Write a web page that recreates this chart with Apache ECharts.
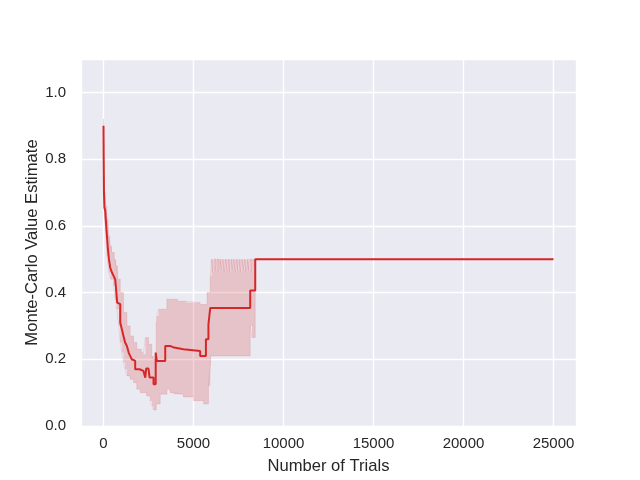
<!DOCTYPE html>
<html>
<head>
<meta charset="utf-8">
<script src="https://cdn.jsdelivr.net/npm/echarts@6/dist/echarts.min.js"></script>
<style>html,body{margin:0;padding:0;background:#fff;}#c{width:640px;height:480px;}</style>
</head>
<body>
<div id="c"></div>
<script>
// Mean estimate line (step-post)
var lineX = [0, 10, 25, 50, 95, 150, 230, 300, 370, 470, 560, 650, 700, 760, 850, 930, 1020, 1110, 1200, 1300, 1400, 1480, 1570, 1670, 1760, 2000, 2220, 2320, 2370, 2500, 2560, 2780, 2900, 2960, 3430, 3700, 3920, 4440, 5370, 5690, 5830, 5930, 8150, 8430, 25000];
var lineY = [0.90, 0.80, 0.70, 0.655, 0.645, 0.60, 0.54, 0.50, 0.475, 0.46, 0.45, 0.44, 0.41, 0.37, 0.365, 0.31, 0.29, 0.27, 0.25, 0.24, 0.22, 0.21, 0.20, 0.195, 0.17, 0.165, 0.165, 0.145, 0.172, 0.172, 0.145, 0.125, 0.22, 0.195, 0.24, 0.235, 0.23, 0.225, 0.21, 0.26, 0.305, 0.354, 0.406, 0.50, 0.50];

// Upper confidence bound
var upperX = [0, 30, 60, 120, 200, 280, 370, 470, 600, 700, 800, 930, 1110, 1300, 1480, 1670, 1850, 2100, 2220, 2330, 2500, 2680, 2780, 2930, 2960, 3060, 3520, 4100, 4600, 5370, 5750, 5930,
  6000, 6080, 6130, 6250, 6300, 6420, 6470, 6560, 6610, 6720, 6770, 6870, 6920, 7030, 7080, 7170, 7220, 7330, 7380, 7470, 7520, 7630, 7680, 7780, 7830, 7930, 7980, 8080, 8130, 8250, 8300, 25000];
var upperY = [0.92, 0.75, 0.70, 0.66, 0.62, 0.57, 0.54, 0.52, 0.50, 0.48, 0.44, 0.40, 0.34, 0.30, 0.27, 0.25, 0.23, 0.22, 0.215, 0.265, 0.245, 0.21, 0.20, 0.31, 0.33, 0.35, 0.38, 0.374, 0.37, 0.364, 0.40, 0.45,
  0.50, 0.46, 0.50, 0.465, 0.50, 0.46, 0.50, 0.47, 0.50, 0.46, 0.50, 0.465, 0.50, 0.46, 0.50, 0.47, 0.50, 0.46, 0.50, 0.465, 0.50, 0.46, 0.50, 0.47, 0.50, 0.46, 0.50, 0.465, 0.50, 0.46, 0.50, 0.50];

// Lower confidence bound
var lowerX = [0, 30, 60, 120, 190, 300, 400, 560, 650, 740, 850, 930, 1020, 1110, 1200, 1300, 1480, 1670, 1850, 2040, 2400, 2600, 2700, 2780, 2930, 3150, 3520, 3700, 3890, 4440, 5000, 5560, 5830, 5930, 5960, 8150, 8250, 8430, 25000];
var lowerY = [0.88, 0.66, 0.62, 0.58, 0.51, 0.46, 0.44, 0.42, 0.38, 0.35, 0.30, 0.25, 0.22, 0.19, 0.17, 0.15, 0.14, 0.13, 0.11, 0.10, 0.09, 0.075, 0.06, 0.048, 0.066, 0.095, 0.11, 0.10, 0.095, 0.087, 0.076, 0.066, 0.12, 0.18, 0.21, 0.30, 0.265, 0.50, 0.50];

var xTicks = [0, 5000, 10000, 15000, 20000, 25000];
var yTicks = [0.0, 0.2, 0.4, 0.6, 0.8, 1.0];

function zip(a, b) { return a.map(function (v, i) { return [v, b[i]]; }); }

function stepPts(xs, ys, api) {
  var pts = [];
  for (var i = 0; i < xs.length; i++) {
    pts.push(api.coord([xs[i], ys[i]]));
    if (i + 1 < xs.length) pts.push(api.coord([xs[i + 1], ys[i]]));
  }
  return pts;
}

var chart = echarts.init(document.getElementById('c'), null, {renderer: 'canvas'});
var FONT = '"Liberation Sans", Arial, sans-serif';
chart.setOption({
  animation: false,
  backgroundColor: '#ffffff',
  grid: {left: 81, right: 64, top: 59, bottom: 53, show: true, backgroundColor: '#eaeaf2', borderWidth: 0},
  xAxis: {
    type: 'value', min: -1250, max: 26250, splitNumber: 5,
    name: 'Number of Trials', nameLocation: 'middle', nameGap: 32, nameMoveOverlap: false,
    nameTextStyle: {color: '#262626', fontSize: 16.6, fontFamily: FONT},
    axisLine: {show: false}, axisTick: {show: false},
    axisLabel: {color: '#262626', fontSize: 15, fontFamily: FONT, margin: 10, showMinLabel: false, showMaxLabel: false,
      formatter: function (v) { return xTicks.indexOf(v) >= 0 ? String(v) : ''; }},
    splitLine: {show: true, lineStyle: {color: '#ffffff', width: 1.4}}
  },
  yAxis: {
    type: 'value', min: 0, max: 1.1, interval: 0.2,
    name: 'Monte-Carlo Value Estimate', nameLocation: 'middle', nameGap: 40, nameMoveOverlap: false,
    nameTextStyle: {color: '#262626', fontSize: 16.6, fontFamily: FONT},
    axisLine: {show: false}, axisTick: {show: false},
    axisLabel: {color: '#262626', fontSize: 15, fontFamily: FONT, margin: 15, showMaxLabel: false,
      formatter: function (v) {
        for (var i = 0; i < yTicks.length; i++) if (Math.abs(yTicks[i] - v) < 1e-9) return yTicks[i].toFixed(1);
        return '';
      }},
    splitLine: {show: true, lineStyle: {color: '#ffffff', width: 1.4}}
  },
  series: [
    {
      type: 'custom', silent: true, clip: true, z: 1,
      data: [[0, 0]],
      renderItem: function (params, api) {
        var up = stepPts(upperX, upperY, api);
        var lo = stepPts(lowerX, lowerY, api).reverse();
        return {type: 'polygon', shape: {points: up.concat(lo)}, style: {fill: 'rgba(214,39,40,0.2)', stroke: null}};
      }
    },
    {type: 'line', step: 'end', data: zip(upperX, upperY), showSymbol: false, z: 2,
      lineStyle: {color: 'rgba(214,39,40,0.12)', width: 1}},
    {type: 'line', step: 'end', data: zip(lowerX, lowerY), showSymbol: false, z: 2,
      lineStyle: {color: 'rgba(214,39,40,0.12)', width: 1}},
    {type: 'line', step: 'end', data: zip(lineX, lineY), showSymbol: false, z: 3,
      lineStyle: {color: '#d62728', width: 2}}
  ]
});
</script>
</body>
</html>
